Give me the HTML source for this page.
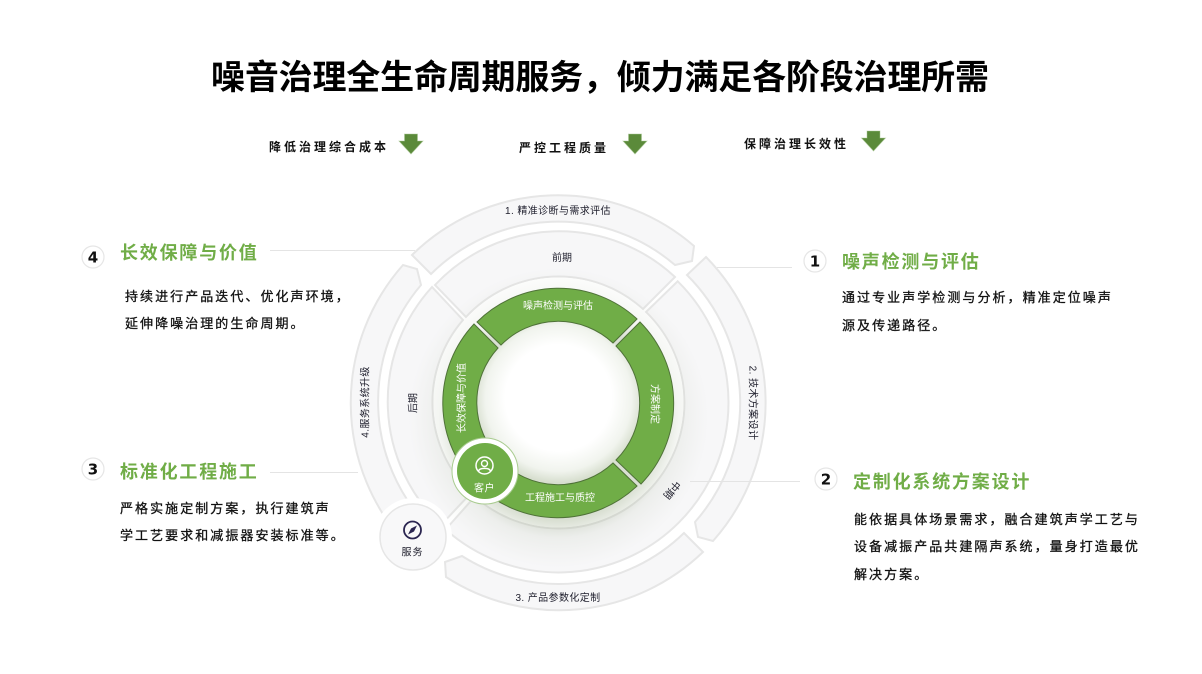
<!DOCTYPE html>
<html lang="zh">
<head>
<meta charset="utf-8">
<title>噪音治理全生命周期服务</title>
<style>
html,body{margin:0;padding:0;background:#fff;width:1202px;height:674px;overflow:hidden}
svg{display:block}
text{font-family:"Liberation Sans","Noto Sans CJK SC",sans-serif}
.sub{font-size:12px;font-weight:700;letter-spacing:3px;fill:#111}
.hd{font-size:18px;font-weight:700;letter-spacing:1.8px;fill:#70ad47}
.bd{font-size:13px;letter-spacing:2.05px;fill:#111;stroke:#111;stroke-width:.3}
.num{font-size:15px;font-weight:700;fill:#111;text-anchor:middle;font-family:"DejaVu Sans",sans-serif}
.lab{font-size:10px;fill:#1d1d2b;text-anchor:middle}
.wl{font-size:10px;fill:#fff;text-anchor:middle}
.seg{fill:#f7f7f8;stroke:#e6e6e6;stroke-width:2}
.gr{fill:#70ad47;stroke:#4f7238;stroke-width:1}
.ln{stroke:#e4e4e4;stroke-width:1}
.nc{fill:#fff;stroke:#e6e6e6;stroke-width:1.2}
.ar{fill:#5b8a3a;stroke:#a9c795;stroke-width:.8;stroke-opacity:.6}
</style>
</head>
<body>
<svg width="1202" height="674" viewBox="0 0 1202 674" xmlns="http://www.w3.org/2000/svg">
<defs>
<radialGradient id="glow" gradientUnits="userSpaceOnUse" cx="558.5" cy="418" r="150">
<stop offset=".68" stop-color="#7f9468" stop-opacity=".3"/>
<stop offset=".8" stop-color="#8f9f7e" stop-opacity=".1"/>
<stop offset="1" stop-color="#a0a890" stop-opacity="0"/>
</radialGradient>
<radialGradient id="inn" gradientUnits="userSpaceOnUse" cx="558.5" cy="398" r="86">
<stop offset=".62" stop-color="#ffffff"/>
<stop offset=".85" stop-color="#f1f4ee"/>
<stop offset="1" stop-color="#d4dccb"/>
</radialGradient>
</defs>

<text x="211" y="89" textLength="778" lengthAdjust="spacing" style="font-size:34px;font-weight:700;fill:#000">噪音治理全生命周期服务，倾力满足各阶段治理所需</text>

<text class="sub" x="269" y="151">降低治理综合成本</text>
<polygon class="ar" points="404.500,134 417.500,134 417.500,141 423,141 411,154 399,141 404.500,141"/>
<text class="sub" x="519" y="152">严控工程质量</text>
<polygon class="ar" points="628.500,134 641.500,134 641.500,141 647,141 635,154 623,141 628.500,141"/>
<text class="sub" x="744" y="148">保障治理长效性</text>
<polygon class="ar" points="867,131 880,131 880,138 885.500,138 873.500,151 861.500,138 867,138"/>

<!-- outer ring -->
<path class="seg" d="M412,255 A208,208 0 0 1 694,246 L692,261 L675,265 A180,180 0 0 0 431,274 Z"/>
<path class="seg" d="M706,257 A208,208 0 0 1 713,541 L698,537 L695,522 A180,180 0 0 0 687,275 Z"/>
<path class="seg" d="M703,552 A208,208 0 0 1 446,577 L445,562 L462,556 A180,180 0 0 0 684,533 Z"/>
<path class="seg" d="M406,544 A208,208 0 0 1 403,265 L417,269 L421,285 A180,180 0 0 0 427,525 Z"/>

<!-- middle ring -->
<path class="seg" d="M435,285 A170,170 0 0 1 675,277 L643,309 A126,126 0 0 0 466,317 Z"/>
<path class="seg" d="M677.700,281.300 A170,170 0 0 1 678.700,522.700 A170,170 0 0 1 445.600,529.500 L474.800,496.600 A126,126 0 0 0 647.600,491.600 A126,126 0 0 0 646,312 Z"/>
<path class="seg" d="M432,287 A170,170 0 0 0 441,525 L471,493 A126,126 0 0 1 463,320 Z"/>

<!-- glow -->
<circle cx="558.500" cy="402.500" r="125" fill="#fff"/>
<circle cx="558.500" cy="418" r="150" fill="url(#glow)"/>
<circle cx="558.500" cy="402.500" r="81" fill="url(#inn)"/>

<!-- green ring -->
<path class="gr" d="M477,322 A115.500,115.500 0 0 1 637,319 L613,343 A80.500,80.500 0 0 0 501,345 Z"/>
<path class="gr" d="M640,322 A115.500,115.500 0 0 1 641,484 L616,460 A80.500,80.500 0 0 0 616,346 Z"/>
<path class="gr" d="M637,486 A115.500,115.500 0 0 1 477,485 L500,460 A80.500,80.500 0 0 0 613,463 Z"/>
<path class="gr" d="M474,324 A115.500,115.500 0 0 0 477,485 L500,459 A80.500,80.500 0 0 1 498,348 Z"/>

<!-- ring labels -->
<text class="lab" x="558" y="214" letter-spacing=".4">1. 精准诊断与需求评估</text>
<text class="lab" transform="translate(753,403) rotate(90)" y="3.500" letter-spacing=".4">2. 技术方案设计</text>
<text class="lab" x="558" y="601" letter-spacing=".4">3. 产品参数化定制</text>
<text class="lab" transform="translate(365,402) rotate(-90)" y="3.500" letter-spacing=".4">4.服务系统升级</text>
<text class="lab" x="562" y="261">前期</text>
<text class="lab" transform="translate(672,490) rotate(130)" y="3.500">中期</text>
<text class="lab" transform="translate(413,403) rotate(-90)" y="3.500">后期</text>
<text class="wl" x="558" y="309">噪声检测与评估</text>
<text class="wl" transform="translate(655,404) rotate(90)" y="3.500">方案制定</text>
<text class="wl" x="560" y="501">工程施工与质控</text>
<text class="wl" transform="translate(461.500,398) rotate(-90)" y="3.500">长效保障与价值</text>

<!-- customer -->
<circle cx="485" cy="471" r="33" fill="#fff" stroke="#a9cc90" stroke-width="1"/>
<circle cx="485" cy="471" r="28" fill="#70ad47"/>
<circle cx="484.500" cy="465.500" r="8.500" fill="none" stroke="#fff" stroke-width="1.500"/>
<circle cx="484.500" cy="463.500" r="3" fill="none" stroke="#fff" stroke-width="1.400"/>
<path d="M478.500,471 C479.500,467.500 489.500,467.500 490.500,471" fill="none" stroke="#fff" stroke-width="1.400"/>
<text class="wl" x="484.500" y="491.500" letter-spacing=".5">客户</text>

<!-- service -->
<circle cx="413" cy="537" r="39" fill="#fff"/>
<circle cx="413" cy="537" r="33" fill="#f8f8f9" stroke="#e6e6e6" stroke-width="1.500"/>
<circle cx="412.500" cy="530" r="8.500" fill="none" stroke="#2a2550" stroke-width="1.800"/>
<polygon points="417,525.500 414,531.500 408,534.500 411,528.500" fill="#2a2550"/>
<text class="lab" x="412.500" y="555.500" letter-spacing="1">服务</text>

<!-- item 4 -->
<circle class="nc" cx="93" cy="257" r="11"/>
<text class="num" x="93" y="262.500">4</text>
<text class="hd" x="120" y="259">长效保障与价值</text>
<line class="ln" x1="270" y1="250.500" x2="415" y2="250.500"/>
<text class="bd" x="125" y="301">持续进行产品迭代、优化声环境，</text>
<text class="bd" x="125" y="328">延伸降噪治理的生命周期。</text>

<!-- item 1 -->
<circle class="nc" cx="815" cy="261" r="11"/>
<text class="num" x="815" y="266.500">1</text>
<text class="hd" x="842" y="268">噪声检测与评估</text>
<line class="ln" x1="717" y1="267.500" x2="792" y2="267.500"/>
<text class="bd" x="842" y="302">通过专业声学检测与分析，精准定位噪声</text>
<text class="bd" x="842" y="330">源及传递路径。</text>

<!-- item 2 -->
<circle class="nc" cx="826" cy="479" r="11"/>
<text class="num" x="826" y="484.500">2</text>
<text class="hd" x="853" y="488">定制化系统方案设计</text>
<line class="ln" x1="690" y1="481.500" x2="800" y2="481.500"/>
<text class="bd" x="854" y="524">能依据具体场景需求，融合建筑声学工艺与</text>
<text class="bd" x="854" y="551">设备减振产品共建隔声系统，量身打造最优</text>
<text class="bd" x="854" y="579">解决方案。</text>

<!-- item 3 -->
<circle class="nc" cx="93" cy="469" r="11"/>
<text class="num" x="93" y="474.500">3</text>
<text class="hd" x="120" y="478">标准化工程施工</text>
<line class="ln" x1="270" y1="472.500" x2="358" y2="472.500"/>
<text class="bd" x="120" y="513">严格实施定制方案，执行建筑声</text>
<text class="bd" x="120" y="540">学工艺要求和减振器安装标准等。</text>
</svg>
</body>
</html>
